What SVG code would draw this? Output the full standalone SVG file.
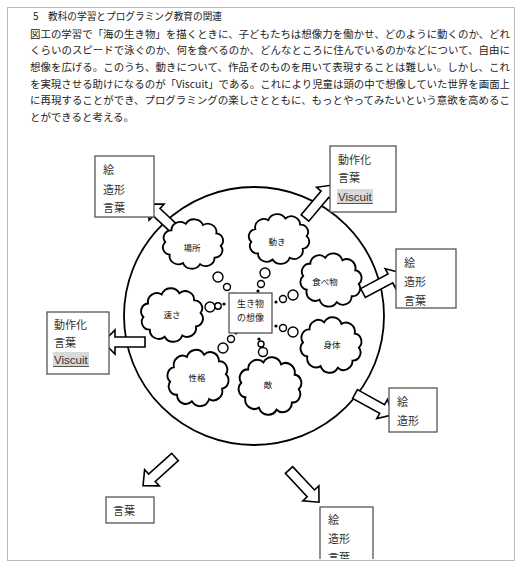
<svg xmlns="http://www.w3.org/2000/svg" xmlns:xlink="http://www.w3.org/1999/xlink" width="524" height="570" viewBox="0 0 524 570">
<style>
.body{font-family:"Noto Sans CJK JP","Noto Sans",sans-serif;font-size:10px;fill:#222}
.box{fill:#fff;stroke:#555;stroke-width:1.3}
.lbl{font-family:"Noto Sans CJK JP","Liberation Sans",sans-serif;font-size:11px;fill:#333}
.vis{font-family:"Liberation Sans","Noto Sans CJK JP",sans-serif;font-size:11.5px;fill:#333}
.cl{fill:#fff;stroke:#000;stroke-width:1.8}
.cltxt{font-family:"Noto Sans CJK JP",sans-serif;font-size:8.5px;fill:#111;text-anchor:middle}
.ctr{font-family:"Noto Sans CJK JP",sans-serif;font-size:9px;fill:#222;text-anchor:middle}
.bub{fill:#fff;stroke:#000;stroke-width:1.4}
.arr{fill:#fff;stroke:#000;stroke-width:1.6;stroke-linejoin:miter}
</style>
<defs>
<path id="cloud" d="M27,0 A7.4,7.4 0 0 1 21.84,12.34 A8.5,8.5 0 0 1 8.34,19.97 A9.2,9.2 0 0 1 -8.34,19.97 A8.5,8.5 0 0 1 -21.84,12.34 A7.4,7.4 0 0 1 -27,0 A7.4,7.4 0 0 1 -21.84,-12.34 A8.5,8.5 0 0 1 -8.34,-19.97 A9.2,9.2 0 0 1 8.34,-19.97 A8.5,8.5 0 0 1 21.84,-12.34 A7.4,7.4 0 0 1 27,0 Z"/>
<clipPath id="page"><rect x="7" y="7" width="508" height="552"/></clipPath>
</defs>
<rect width="524" height="570" fill="#fff"/>
<rect x="7.5" y="7.5" width="507" height="553" fill="none" stroke="#bbb" stroke-width="1"/>

<g id="text">
<text class="body" x="33" y="20" font-size="9">5</text>
<text class="body" x="48" y="20" font-size="9" textLength="174" lengthAdjust="spacingAndGlyphs">教科の学習とプログラミング教育の関連</text>
<text class="body" x="30" y="38" textLength="480" lengthAdjust="spacingAndGlyphs">図工の学習で「海の生き物」を描くときに、子どもたちは想像力を働かせ、どのように動くのか、どれ</text>
<text class="body" x="30" y="54" textLength="480" lengthAdjust="spacingAndGlyphs">くらいのスピードで泳ぐのか、何を食べるのか、どんなところに住んでいるのかなどについて、自由に</text>
<text class="body" x="30" y="71" textLength="480" lengthAdjust="spacingAndGlyphs">想像を広げる。このうち、動きについて、作品そのものを用いて表現することは難しい。しかし、これ</text>
<text class="body" x="30" y="88" textLength="480" lengthAdjust="spacingAndGlyphs">を実現させる助けになるのが「Viscuit」である。これにより児童は頭の中で想像していた世界を画面上</text>
<text class="body" x="30" y="104" textLength="480" lengthAdjust="spacingAndGlyphs">に再現することができ、プログラミングの楽しさとともに、もっとやってみたいという意欲を高めるこ</text>
<text class="body" x="30" y="121" textLength="104" lengthAdjust="spacingAndGlyphs">とができると考える。</text>
</g>

<ellipse id="circle" cx="254" cy="316" rx="130" ry="129" fill="none" stroke="#000" stroke-width="1.8"/>

<g id="connectors">
<polygon class="arr" transform="translate(180,234) rotate(-137)" points="0,-5 32,-5 32,-11 44,0 32,11 32,5 0,5"/>
<polygon class="arr" transform="translate(305,218) rotate(-50)" points="0,-5 31,-5 31,-11 43,0 31,11 31,5 0,5"/>
<polygon class="arr" transform="translate(363,293) rotate(-28)" points="0,-5 31,-5 31,-11 43,0 31,11 31,5 0,5"/>
<polygon class="arr" transform="translate(145,342) rotate(180)" points="0,-5 30,-5 30,-12 42,0 30,12 30,5 0,5"/>
<polygon class="arr" transform="translate(355,394) rotate(29)" points="0,-5 31,-5 31,-11 43,0 31,11 31,5 0,5"/>
<polygon class="arr" transform="translate(175,457) rotate(138)" points="0,-5 31,-5 31,-11 43,0 31,11 31,5 0,5"/>
<polygon class="arr" transform="translate(289,470) rotate(47)" points="0,-5 32,-5 32,-11 44,0 32,11 32,5 0,5"/>
<g id="bubbles">
<circle class="bub" cx="218" cy="277" r="5"/><circle class="bub" cx="227" cy="287" r="3.5"/><circle cx="234" cy="294" r="1.6"/>
<circle class="bub" cx="265" cy="273" r="5"/><circle class="bub" cx="261" cy="284" r="3.5"/><circle cx="258" cy="291" r="1.6"/>
<circle class="bub" cx="293" cy="295" r="5"/><circle class="bub" cx="283" cy="299" r="3.5"/><circle cx="276" cy="302" r="1.6"/>
<circle class="bub" cx="210" cy="307" r="5"/><circle class="bub" cx="218" cy="306" r="3.2"/><circle cx="224" cy="304" r="1.6"/>
<circle class="bub" cx="293" cy="332" r="5"/><circle class="bub" cx="283" cy="328" r="3.5"/><circle cx="276" cy="326" r="1.6"/>
<circle class="bub" cx="223" cy="348" r="5"/><circle class="bub" cx="231" cy="339" r="3.5"/><circle cx="236" cy="333" r="1.6"/>
<circle class="bub" cx="263" cy="352" r="4.5"/><circle class="bub" cx="261" cy="344" r="3"/><circle cx="259" cy="339" r="1.6"/>
</g>
</g>

<g id="center">
<rect x="229" y="293" width="43" height="40" fill="#fff" stroke="#444" stroke-width="1.2"/>
<text class="ctr" x="250.5" y="307">生き物</text>
<text class="ctr" x="250.5" y="321">の想像</text>
</g>

<g id="cloud-basho"><use href="#cloud" class="cl" transform="translate(193,244) scale(1.03,0.98) rotate(4)"/><text class="cltxt" x="192" y="251">場所</text></g>
<g id="cloud-ugoki"><use href="#cloud" class="cl" transform="translate(279,239) scale(1.03,0.99) rotate(-6)"/><text class="cltxt" x="277" y="245">動き</text></g>
<g id="cloud-tabemono"><use href="#cloud" class="cl" transform="translate(331,280) scale(1.04,1.06) rotate(8)"/><text class="cltxt" x="325" y="285">食べ物</text></g>
<g id="cloud-hayasa"><use href="#cloud" class="cl" transform="translate(172,315) scale(1.06,1.06) rotate(-4)"/><text class="cltxt" x="172" y="318">速さ</text></g>
<g id="cloud-shintai"><use href="#cloud" class="cl" transform="translate(331,345) scale(1.04,1.1) rotate(5)"/><text class="cltxt" x="332" y="348">身体</text></g>
<g id="cloud-seikaku"><use href="#cloud" class="cl" transform="translate(198,378) scale(1.04,1.12) rotate(-7)"/><text class="cltxt" x="197" y="381">性格</text></g>
<g id="cloud-teki"><use href="#cloud" class="cl" transform="translate(270,386) scale(1.07,1.14) rotate(6)"/><text class="cltxt" x="268" y="388">敵</text></g>

<g id="box-tl">
<rect class="box" x="95" y="156" width="59" height="61"/>
<text class="lbl" x="103" y="174">絵</text>
<text class="lbl" x="103" y="194">造形</text>
<text class="lbl" x="103" y="212">言葉</text>
</g>
<g id="box-tr">
<rect class="box" x="330" y="146" width="66" height="66"/>
<text class="lbl" x="338" y="164">動作化</text>
<text class="lbl" x="338" y="182">言葉</text>
<rect x="337" y="189" width="36" height="14" fill="#d9d9d9"/>
<line x1="337" y1="203.5" x2="373" y2="203.5" stroke="#555" stroke-width="1.2"/>
<text class="vis" x="338" y="201">Viscuit</text>
</g>
<g id="box-r">
<rect class="box" x="396" y="249" width="60" height="59"/>
<text class="lbl" x="404" y="267">絵</text>
<text class="lbl" x="404" y="286">造形</text>
<text class="lbl" x="404" y="305">言葉</text>
</g>
<g id="box-l">
<rect class="box" x="47" y="312" width="62" height="62"/>
<text class="lbl" x="54" y="329">動作化</text>
<text class="lbl" x="54" y="347">言葉</text>
<rect x="53" y="352" width="36" height="14" fill="#d9d9d9"/>
<line x1="53" y1="366.5" x2="89" y2="366.5" stroke="#555" stroke-width="1.2"/>
<text class="vis" x="54" y="364">Viscuit</text>
</g>
<g id="box-rb">
<rect class="box" x="389" y="388" width="48" height="44"/>
<text class="lbl" x="397" y="406">絵</text>
<text class="lbl" x="397" y="425">造形</text>
</g>
<g id="box-bl">
<rect class="box" x="106" y="497" width="48" height="26"/>
<text class="lbl" x="113" y="515">言葉</text>
</g>
<g id="box-br" clip-path="url(#page)">
<rect class="box" x="320" y="507" width="53" height="70"/>
<text class="lbl" x="328" y="524">絵</text>
<text class="lbl" x="328" y="543">造形</text>
<text class="lbl" x="328" y="562">言葉</text>
</g>
</svg>
